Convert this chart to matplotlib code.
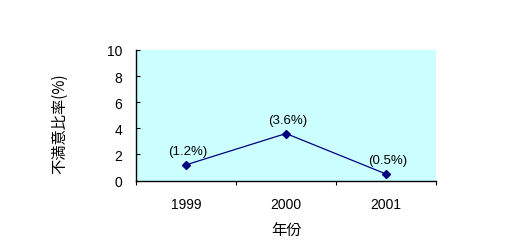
import matplotlib
matplotlib.use("Agg")
import matplotlib.pyplot as plt

years = ["1999", "2000", "2001"]
values = [1.2, 3.6, 0.5]
labels = ["(1.2%)", "(3.6%)", "(0.5%)"]
y_ticks = [0, 2, 4, 6, 8, 10]

plt.rcParams['font.family'] = ['Liberation Sans', 'DejaVu Sans']

fig = plt.figure(figsize=(5.05, 2.51), dpi=100)
ax = fig.add_axes([136/505, 1-181.5/251, (436-136)/505, (181.5-51)/251])
ax.set_facecolor("#CCFFFF")

x = list(range(len(years)))
ax.plot(x, values, color="#000080", lw=0.9, marker="D", ms=4,
        markerfacecolor="#000080", markeredgecolor="#000080")
for xi, v, lab in zip(x, values, labels):
    ax.annotate(lab, (xi, v), xytext=(1, 5.5), textcoords="offset points",
                ha="center", va="bottom", fontsize=9.5, color="black")

ax.set_xlim(-0.5, len(years) - 0.5)
ax.set_ylim(0, 10)
ax.set_yticks(y_ticks)
ax.set_yticklabels([str(t) for t in y_ticks], fontsize=10)
ax.tick_params(axis="y", direction="in", length=3, width=0.8, pad=10)

ax.set_xticks(x)
ax.set_xticklabels(years, fontsize=10)
ax.tick_params(axis="x", which="major", length=0, pad=12)
ax.set_xticks([i - 0.5 for i in range(len(years) + 1)], minor=True)
ax.tick_params(axis="x", which="minor", direction="out", length=3, width=0.8)

for s in ["top", "right"]:
    ax.spines[s].set_visible(False)
for s in ["left", "bottom"]:
    ax.spines[s].set_linewidth(1.0)
    ax.spines[s].set_color("black")

cjk = ['Noto Sans CJK JP', 'DejaVu Sans']
ax.set_ylabel("不満意比率(%)", fontsize=11, family=cjk)
ax.yaxis.set_label_coords(-0.225, 0.44)
ax.set_xlabel("年份", fontsize=11, family=cjk)
ax.xaxis.set_label_coords(0.5, -0.32)

fig.savefig("out.png", dpi=100)
